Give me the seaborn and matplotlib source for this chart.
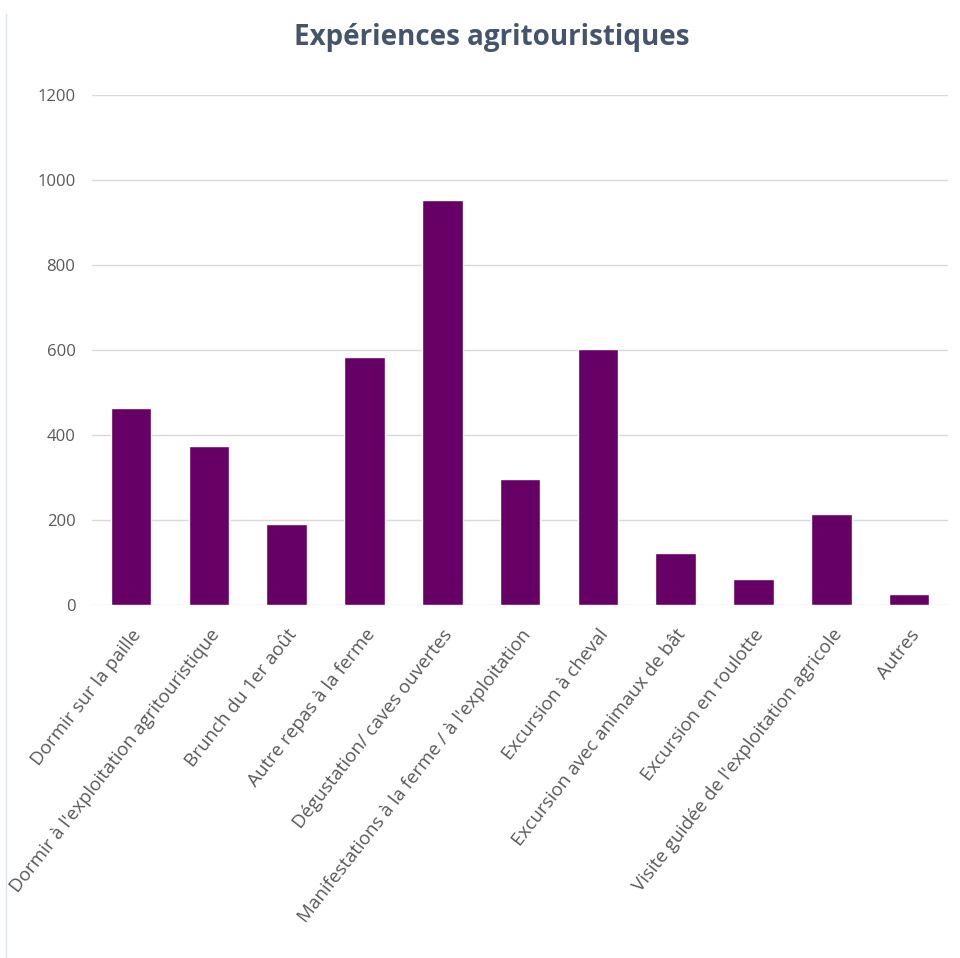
import matplotlib

matplotlib.use("Agg")
import matplotlib.pyplot as plt
import pandas as pd
import seaborn as sns
from matplotlib.lines import Line2D

# --- données -----------------------------------------------------------------
CATEGORIES = [
    "Dormir sur la paille",
    "Dormir à l'exploitation agritouristique",
    "Brunch du 1er août",
    "Autre repas à la ferme",
    "Dégustation/ caves ouvertes",
    "Manifestations à la ferme / à l'exploitation",
    "Excursion à cheval",
    "Excursion avec animaux de bât",
    "Excursion en roulotte",
    "Visite guidée de l'exploitation agricole",
    "Autres",
]
VALEURS = [463, 375, 190, 584, 953, 297, 603, 122, 60, 214, 26]
TICKS_Y = [0, 200, 400, 600, 800, 1000, 1200]

VIOLET = "#660066"
GRIS_TEXTE = "#595959"
TITRE = "#44546A"
GRILLE = "#D9D9D9"

sns.set_theme(style="whitegrid")
plt.rcParams["font.family"] = ["Open Sans", "DejaVu Sans"]

df = pd.DataFrame({"experience": CATEGORIES, "n": VALEURS})

fig = plt.figure(figsize=(9.6, 9.58), dpi=100)
ax = fig.add_axes([0.096, 0.3685, 0.8915, 0.5323])

sns.barplot(data=df, x="experience", y="n", color=VIOLET, width=0.52,
            saturation=1, ax=ax)

ax.set_ylim(0, 1200)
ax.set_yticks(TICKS_Y)
ax.set_yticklabels([str(t) for t in TICKS_Y], color=GRIS_TEXTE, fontsize=12)
ax.set_xlabel("")
ax.set_ylabel("")
ax.set_xticks(range(len(CATEGORIES)))
ax.set_xticklabels(CATEGORIES, rotation=52, ha="right", rotation_mode="anchor",
                   color=GRIS_TEXTE, fontsize=13.5)
ax.tick_params(axis="x", length=0, pad=15)
ax.tick_params(axis="y", length=0, pad=12)
ax.grid(axis="y", color=GRILLE, linewidth=1)
ax.grid(axis="x", visible=False)
for s in ax.spines.values():
    s.set_visible(False)
ax.set_facecolor("white")

fig.text(0.5125, 0.961, "Expériences agritouristiques", ha="center", va="center",
         fontsize=20, fontweight="bold", color=TITRE)

# fine bordure à gauche
fig.add_artist(Line2D([0.006, 0.006], [0, 0.985], transform=fig.transFigure,
                      color="#DDE3EA", linewidth=1))

fig.savefig("out.png", dpi=100, facecolor="white")
